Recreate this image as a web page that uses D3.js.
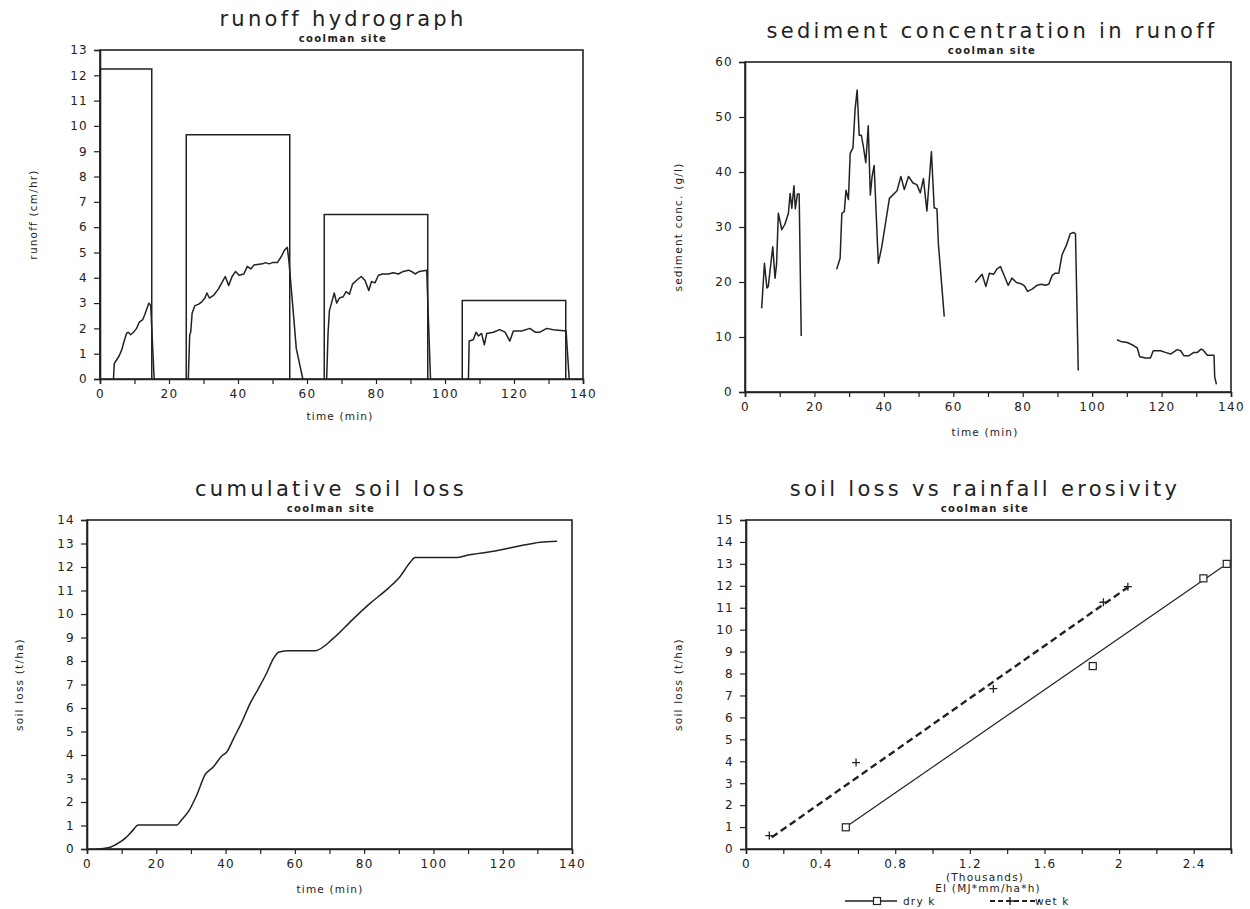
<!DOCTYPE html>
<html>
<head>
<meta charset="utf-8">
<script src="https://cdn.jsdelivr.net/npm/d3@7"></script>
<style>
  html, body { margin: 0; padding: 0; background: #fff; }
  svg { display: block; }
  text { font-family: "DejaVu Sans", sans-serif; fill: #222; }
  .title { font-size: 21px; letter-spacing: 3.3px; }
  .subtitle { font-size: 10px; font-weight: bold; letter-spacing: 1.4px; }
  .tick-label { font-size: 12px; letter-spacing: 1.3px; }
  .axis-title { font-size: 10.5px; letter-spacing: 1.2px; }
</style>
</head>
<body>
<svg id="chart" width="1250" height="909"></svg>
<script>
// ---- rainfall simulation blocks (cm/hr) ----
const rainStart = [0, 25, 65, 105];
const rainEnd = [15, 55, 95, 135];
const rainRate = [12.25, 9.65, 6.5, 3.1];

// ---- runoff rate per event, [time (min), runoff (cm/hr)] ----
const runoffEvent1 = [[3.9,0],[4.15,0.62],[4.8,0.75],[5.5,0.9],[6.3,1.15],[7.0,1.5],[7.7,1.8],[8.2,1.85],[8.9,1.75],[9.7,1.85],[10.6,2.0],[11.4,2.25],[12.4,2.35],[13.0,2.55],[13.5,2.75],[14.2,3.0],[14.7,2.9],[15.7,0]];
const runoffEvent2 = [[25.6,0],[26.0,1.75],[26.3,1.85],[26.7,2.6],[27.5,2.9],[28.5,2.95],[29.5,3.05],[30.4,3.2],[31.0,3.4],[31.7,3.2],[32.9,3.3],[34.3,3.55],[35.3,3.8],[36.3,4.05],[37.3,3.7],[38.3,4.05],[39.3,4.25],[40.3,4.1],[41.7,4.15],[42.7,4.45],[43.7,4.35],[44.6,4.5],[47.1,4.55],[48.0,4.6],[49.0,4.55],[50.0,4.6],[51.4,4.6],[52.6,4.85],[53.5,5.1],[54.3,5.2],[54.8,4.6],[55.8,3.0],[56.9,1.2],[58.8,0]];
const runoffEvent3 = [[65.7,0],[66.1,1.8],[66.5,2.7],[67.1,3.0],[67.9,3.4],[68.6,3.0],[69.4,3.2],[70.5,3.25],[71.3,3.45],[72.3,3.35],[73.2,3.75],[74.4,3.9],[75.7,4.05],[76.8,3.9],[77.9,3.5],[78.7,3.85],[79.7,3.8],[80.7,4.1],[81.9,4.15],[83.6,4.15],[85.0,4.2],[86.5,4.15],[87.9,4.25],[89.4,4.3],[90.3,4.25],[91.3,4.15],[92.6,4.25],[94.7,4.3],[95.8,0]];
const runoffEvent4 = [[106.8,0],[107.0,1.5],[108.2,1.55],[109.0,1.85],[109.7,1.7],[110.6,1.8],[111.4,1.35],[112.1,1.8],[114.0,1.85],[115.9,1.95],[117.4,1.85],[118.8,1.5],[119.8,1.9],[122.2,1.9],[124.6,2.0],[126.1,1.85],[127.5,1.85],[129.5,2.0],[131.4,1.95],[135.1,1.9],[136.0,0]];

// ---- sediment concentration per event, [time (min), conc (g/l)] ----
const sedimentEvent1 = [[4.8,15.2],[5.6,23.4],[6.3,18.9],[6.7,19.2],[8.0,26.4],[8.65,20.7],[9.1,23.3],[9.6,32.5],[10.6,29.5],[11.5,30.5],[12.5,32.5],[13.0,36.1],[13.5,33.4],[14.1,37.5],[14.5,33.3],[15.1,36.0],[15.6,36.0],[16.2,10.2]];
const sedimentEvent2 = [[26.4,22.3],[27.4,24.3],[27.9,32.5],[28.6,32.8],[29.1,36.7],[29.8,35.0],[30.3,43.4],[31.1,44.4],[31.7,51.3],[32.3,54.9],[32.9,46.7],[33.5,46.7],[34.1,44.6],[34.8,41.7],[35.5,48.4],[36.1,35.8],[36.6,39.1],[37.2,41.2],[38.4,23.4],[39.4,26.4],[41.6,35.2],[43.8,36.6],[44.9,39.2],[45.9,36.8],[47.1,39.2],[48.4,38.0],[49.5,37.7],[50.5,36.2],[51.4,38.8],[52.4,32.9],[53.7,43.7],[54.5,33.5],[55.3,33.3],[55.7,27.0],[57.4,13.7]];
const sedimentEvent3 = [[66.3,19.9],[68.3,21.4],[69.4,19.2],[70.4,21.6],[71.6,21.4],[72.6,22.4],[73.6,22.8],[74.5,21.4],[75.8,19.4],[76.9,20.7],[78.2,19.9],[79.5,19.7],[80.5,19.3],[81.4,18.3],[82.7,18.7],[84.1,19.4],[85.4,19.6],[86.5,19.4],[87.5,19.6],[88.5,21.2],[89.4,21.6],[90.4,21.6],[91.3,24.9],[92.6,26.7],[93.7,28.8],[94.6,29.0],[95.2,28.8],[96.0,3.9]];
const sedimentEvent4 = [[107.2,9.5],[108.2,9.2],[110.1,9.0],[111.5,8.6],[113.0,8.0],[113.7,6.4],[115.4,6.2],[116.8,6.2],[117.6,7.5],[119.7,7.5],[121.1,7.2],[122.6,6.9],[124.5,7.7],[125.5,7.5],[126.4,6.6],[127.9,6.6],[129.3,7.2],[130.3,7.2],[131.4,7.8],[132.0,7.6],[133.2,6.7],[135.1,6.7],[135.3,2.8],[135.8,1.4]];

// ---- cumulative soil loss, [time (min), soil loss (t/ha)] ----
const cumulativeLoss = [[2.8,0],[6.2,0.05],[8.1,0.17],[11.0,0.45],[12.9,0.74],[14.8,1.02],[17.2,1.02],[25.9,1.02],[27.3,1.24],[29.3,1.6],[31.7,2.3],[34.1,3.16],[36.5,3.5],[38.9,3.96],[40.4,4.14],[42.3,4.7],[44.7,5.4],[47.1,6.2],[49.0,6.7],[51.9,7.5],[53.8,8.1],[55.3,8.37],[57.7,8.44],[65.9,8.44],[71.1,8.96],[76.5,9.74],[81.7,10.45],[87.0,11.1],[90.4,11.6],[93.3,12.2],[94.7,12.4],[106.8,12.4],[109.7,12.5],[117.4,12.67],[125.1,12.9],[130.8,13.05],[135.7,13.1]];

// ---- soil loss vs rainfall erosivity ----
const dryEI = [535, 1859, 2452, 2577];
const dryLoss = [0.99, 8.34, 12.34, 13.0];
const wetEI = [125, 590, 1326, 1916, 2047];
const wetLoss = [0.61, 3.94, 7.31, 11.25, 11.96];
const dryFitEI = [535, 2555];
const dryFitLoss = [1.0, 12.87];
const wetFitEI = [138, 2050];
const wetFitLoss = [0.53, 11.95];

// ---- titles and tick settings ----
const panelTitles = ["runoff hydrograph", "sediment concentration in runoff", "cumulative soil loss", "soil loss vs rainfall erosivity"];
const siteLabel = "coolman site";
const timeTicks = d3.range(0, 141, 10);
const eiTicks = d3.range(0, 2601, 200);

const svg = d3.select("#chart");
const ink = "#222";

// Build one framed panel: scales, outward ticks, labels, titles
function makePanel(cfg) {
  const g = svg.append("g");
  const x = d3.scaleLinear().domain(cfg.xDomain).range([cfg.left, cfg.right]);
  const y = d3.scaleLinear().domain(cfg.yDomain).range([cfg.bottom, cfg.top]);

  // frame
  g.append("rect")
    .attr("x", cfg.left).attr("y", cfg.top)
    .attr("width", cfg.right - cfg.left).attr("height", cfg.bottom - cfg.top)
    .attr("fill", "none").attr("stroke", ink).attr("stroke-width", 1.6);

  // x axis
  const xAxis = d3.axisBottom(x).tickValues(cfg.xTicks).tickSize(5).tickPadding(5)
    .tickFormat(cfg.xFormat);
  const gx = g.append("g").attr("transform", `translate(0,${cfg.bottom})`).call(xAxis);
  gx.attr("font-family", null).attr("font-size", null);
  gx.select(".domain").attr("stroke", ink).attr("stroke-width", 1.6);
  gx.selectAll(".tick line").attr("stroke", ink).attr("stroke-width", 1.2);
  gx.selectAll(".tick text").attr("class", "tick-label").attr("fill", ink);

  // y axis
  const yAxis = d3.axisLeft(y).tickValues(cfg.yTicks).tickSize(6).tickPadding(6);
  const gy = g.append("g").attr("transform", `translate(${cfg.left},0)`).call(yAxis);
  gy.attr("font-family", null).attr("font-size", null);
  gy.select(".domain").attr("stroke", ink).attr("stroke-width", 1.6);
  gy.selectAll(".tick line").attr("stroke", ink).attr("stroke-width", 1.2);
  gy.selectAll(".tick text").attr("class", "tick-label").attr("fill", ink);

  // titles
  const cx = cfg.titleX;
  g.append("text").attr("class", "title").attr("x", cx).attr("y", cfg.titleY)
    .attr("text-anchor", "middle").text(cfg.title);
  g.append("text").attr("class", "subtitle").attr("x", cx).attr("y", cfg.titleY + 16)
    .attr("text-anchor", "middle").text(siteLabel);

  // axis titles
  if (cfg.xLabel) {
    g.append("text").attr("class", "axis-title").attr("x", cfg.xLabelX).attr("y", cfg.xLabelY)
      .attr("text-anchor", "middle").text(cfg.xLabel);
  }
  g.append("text").attr("class", "axis-title")
    .attr("transform", `translate(${cfg.yLabelX},${(cfg.top + cfg.bottom) / 2}) rotate(-90)`)
    .attr("text-anchor", "middle").text(cfg.yLabel);

  return { g, x, y };
}

const timeFormat = d => (d % 20 === 0 ? d : "");

// ---------- panel 1: runoff hydrograph ----------
const p1 = makePanel({
  left: 100, right: 583, top: 50, bottom: 379,
  xDomain: [0, 140], yDomain: [0, 13],
  xTicks: timeTicks, xFormat: timeFormat, yTicks: d3.range(0, 14),
  title: panelTitles[0], titleX: 343, titleY: 26,
  xLabel: "time (min)", xLabelX: 340, xLabelY: 420,
  yLabel: "runoff (cm/hr)", yLabelX: 37
});
rainRate.forEach((r, i) => {
  p1.g.append("path")
    .attr("d", d3.line()([
      [p1.x(rainStart[i]), p1.y(0)], [p1.x(rainStart[i]), p1.y(r)],
      [p1.x(rainEnd[i]), p1.y(r)], [p1.x(rainEnd[i]), p1.y(0)]
    ]))
    .attr("fill", "none").attr("stroke", ink).attr("stroke-width", 1.5);
});
const line1 = d3.line().x(d => p1.x(d[0])).y(d => p1.y(d[1]));
[runoffEvent1, runoffEvent2, runoffEvent3, runoffEvent4].forEach(ev => {
  p1.g.append("path").attr("d", line1(ev))
    .attr("fill", "none").attr("stroke", ink).attr("stroke-width", 1.5).attr("stroke-linejoin", "round");
});

// ---------- panel 2: sediment concentration ----------
const p2 = makePanel({
  left: 745, right: 1231, top: 62, bottom: 392,
  xDomain: [0, 140], yDomain: [0, 60],
  xTicks: timeTicks, xFormat: timeFormat, yTicks: d3.range(0, 61, 10),
  title: panelTitles[1], titleX: 992, titleY: 38,
  xLabel: "time (min)", xLabelX: 985, xLabelY: 436,
  yLabel: "sediment conc. (g/l)", yLabelX: 682
});
const line2 = d3.line().x(d => p2.x(d[0])).y(d => p2.y(d[1]));
[sedimentEvent1, sedimentEvent2, sedimentEvent3, sedimentEvent4].forEach(ev => {
  p2.g.append("path").attr("d", line2(ev))
    .attr("fill", "none").attr("stroke", ink).attr("stroke-width", 1.5).attr("stroke-linejoin", "round");
});

// ---------- panel 3: cumulative soil loss ----------
const p3 = makePanel({
  left: 87, right: 572, top: 520, bottom: 849,
  xDomain: [0, 140], yDomain: [0, 14],
  xTicks: timeTicks, xFormat: timeFormat, yTicks: d3.range(0, 15),
  title: panelTitles[2], titleX: 331, titleY: 496,
  xLabel: "time (min)", xLabelX: 330, xLabelY: 893,
  yLabel: "soil loss (t/ha)", yLabelX: 23
});
const line3 = d3.line().x(d => p3.x(d[0])).y(d => p3.y(d[1])).curve(d3.curveMonotoneX);
p3.g.append("path").attr("d", line3(cumulativeLoss))
  .attr("fill", "none").attr("stroke", ink).attr("stroke-width", 1.5);

// ---------- panel 4: soil loss vs rainfall erosivity ----------
const p4 = makePanel({
  left: 746, right: 1231, top: 520, bottom: 849,
  xDomain: [0, 2600], yDomain: [0, 15],
  xTicks: eiTicks, xFormat: d => (d % 400 === 0 ? String(d / 1000) : ""),
  yTicks: d3.range(0, 16),
  title: panelTitles[3], titleX: 985, titleY: 496,
  xLabel: null,
  yLabel: "soil loss (t/ha)", yLabelX: 682
});
p4.g.append("text").attr("class", "axis-title").attr("x", 985).attr("y", 881)
  .attr("text-anchor", "middle").text("(Thousands)");
p4.g.append("text").attr("class", "axis-title").attr("x", 988).attr("y", 892)
  .attr("text-anchor", "middle").text("EI (MJ*mm/ha*h)");

// fitted lines
p4.g.append("line")
  .attr("x1", p4.x(dryFitEI[0])).attr("y1", p4.y(dryFitLoss[0]))
  .attr("x2", p4.x(dryFitEI[1])).attr("y2", p4.y(dryFitLoss[1]))
  .attr("stroke", ink).attr("stroke-width", 1.2);
p4.g.append("line")
  .attr("x1", p4.x(wetFitEI[0])).attr("y1", p4.y(wetFitLoss[0]))
  .attr("x2", p4.x(wetFitEI[1])).attr("y2", p4.y(wetFitLoss[1]))
  .attr("stroke", ink).attr("stroke-width", 2.4).attr("stroke-dasharray", "7,4");

// markers
function squareMarker(g, cx, cy) {
  g.append("rect").attr("x", cx - 3.5).attr("y", cy - 3.5).attr("width", 7).attr("height", 7)
    .attr("fill", "#fff").attr("stroke", ink).attr("stroke-width", 1.2);
}
function plusMarker(g, cx, cy) {
  g.append("path").attr("d", `M${cx - 4},${cy}H${cx + 4}M${cx},${cy - 4}V${cy + 4}`)
    .attr("stroke", ink).attr("stroke-width", 1.3);
}
dryEI.forEach((e, i) => squareMarker(p4.g, p4.x(e), p4.y(dryLoss[i])));
wetEI.forEach((e, i) => plusMarker(p4.g, p4.x(e), p4.y(wetLoss[i])));

// legend
const legY = 901;
p4.g.append("line").attr("x1", 845).attr("x2", 897).attr("y1", legY).attr("y2", legY)
  .attr("stroke", ink).attr("stroke-width", 1.5);
squareMarker(p4.g, 877, legY);
p4.g.append("text").attr("class", "axis-title").attr("x", 903).attr("y", legY + 4).text("dry k");
p4.g.append("line").attr("x1", 990).attr("x2", 1040).attr("y1", legY).attr("y2", legY)
  .attr("stroke", ink).attr("stroke-width", 2).attr("stroke-dasharray", "5,3");
plusMarker(p4.g, 1010, legY);
p4.g.append("text").attr("class", "axis-title").attr("x", 1035).attr("y", legY + 4).text("wet k");
</script>
</body>
</html>
